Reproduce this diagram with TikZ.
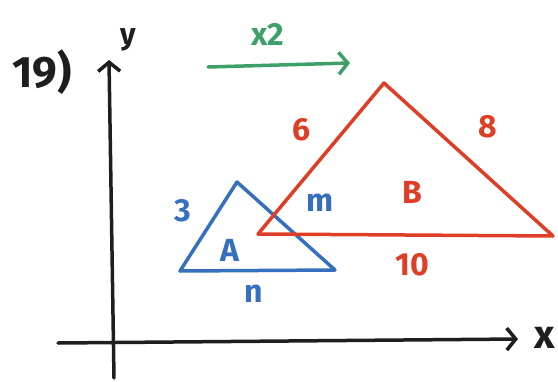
\documentclass[tikz,border=0pt]{standalone}
\usepackage{fontspec}
\setmainfont{Fira Sans}
\usetikzlibrary{arrows.meta}
\definecolor{penblue}{RGB}{52,112,190}
\definecolor{penred}{RGB}{222,62,38}
\definecolor{pengreen}{RGB}{62,160,105}
\definecolor{penblack}{RGB}{30,30,30}
\tikzset{
  axisline/.style={draw=penblack, line width=3.5pt, line cap=round},
  chev/.style={-{Straight Barb[length=9pt,width=22pt,line width=3.5pt]}},
  bluetri/.style={draw=penblue, line width=3.5pt, line join=round, line cap=round},
  redtri/.style={draw=penred, line width=3.5pt, line join=round, line cap=round},
  lbl/.style={inner sep=0pt, font=\fontsize{32}{36}\selectfont\bfseries},
}
\begin{document}
\begin{tikzpicture}[x=1pt,y=-1pt]
\useasboundingbox (0,0) rectangle (558,381);
% axes
\coordinate (ybot) at (114,378);
\coordinate (ytop) at (109,60);
\coordinate (xleft) at (58,343);
\coordinate (xright) at (518,339);
\draw[axisline,chev] (ybot) -- (ytop);
\draw[axisline,chev] (xleft) -- (xright);
\node[lbl,text=penblack,font=\fontsize{44}{48}\selectfont\bfseries] (qnum) at (42,72) {19)};
\node[lbl,text=penblack,font=\fontsize{30}{34}\selectfont\bfseries] (ylab) at (128,40) {y};
\node[lbl,text=penblack,font=\fontsize{40}{44}\selectfont\bfseries] (xlab) at (545,338) {x};
% scale arrow
\coordinate (gs) at (208,67);
\coordinate (ge) at (350,63);
\draw[draw=pengreen, line width=3.5pt, line cap=round, chev] (gs) -- (ge);
\node[lbl,text=pengreen] (xtwo) at (268,34) {x2};
% triangle A
\coordinate (a1) at (237,182);
\coordinate (a2) at (180,271);
\coordinate (a3) at (335,270);
\draw[bluetri] (a1) -- (a2) -- (a3) -- cycle;
\node[lbl,text=penblue] (l3) at (183,211) {3};
\node[lbl,text=penblue] (lA) at (230,250) {A};
\node[lbl,text=penblue] (lm) at (320,203) {m};
\node[lbl,text=penblue] (ln) at (254,294) {n};
% triangle B
\coordinate (b1) at (384,83);
\coordinate (b2) at (258,234);
\coordinate (b3) at (553,236);
\draw[redtri] (b1) -- (b2) -- (b3) -- cycle;
\node[lbl,text=penred] (l6) at (302,130) {6};
\node[lbl,text=penred] (l8) at (488,127) {8};
\node[lbl,text=penred] (lB) at (412,192) {B};
\node[lbl,text=penred] (l10) at (412,265) {10};
\end{tikzpicture}
\end{document}
